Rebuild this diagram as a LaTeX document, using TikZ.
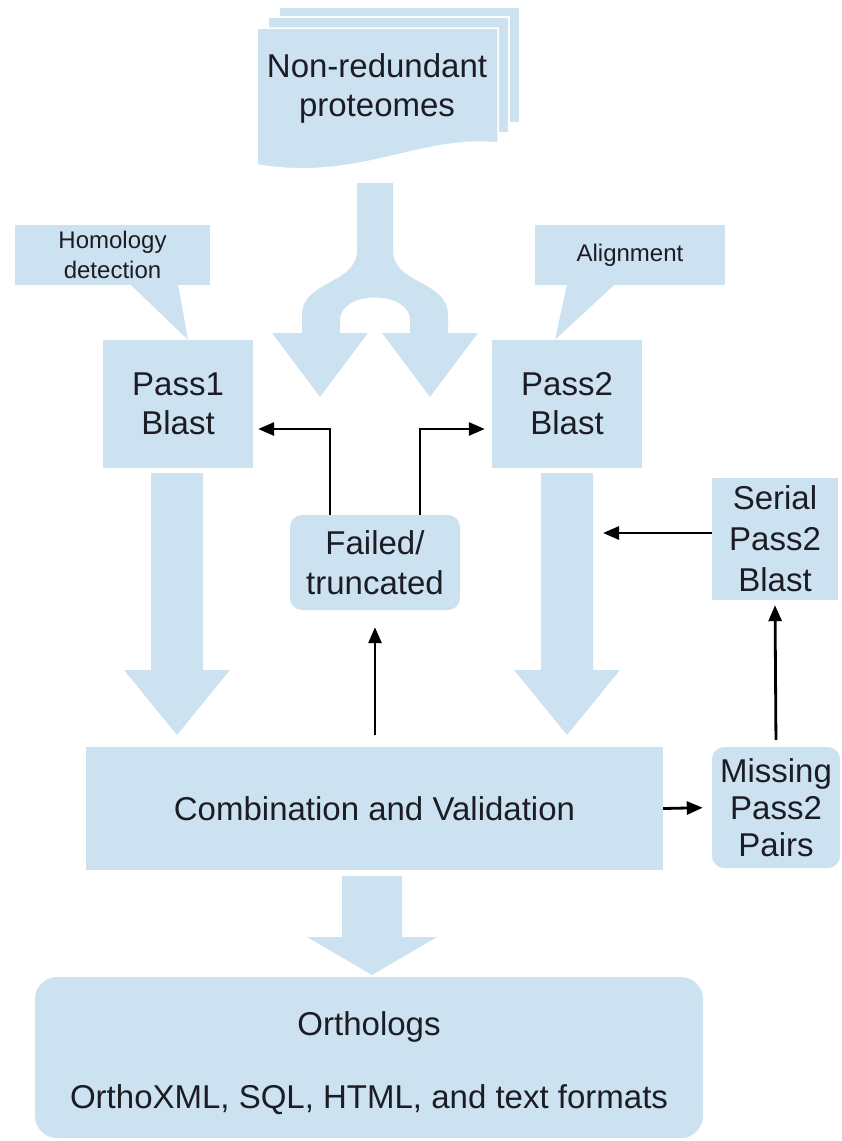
\documentclass[tikz,border=0pt]{standalone}
\usepackage{fontspec}
\setmainfont{Liberation Sans}
\definecolor{pale}{HTML}{CCE2F1}
\definecolor{ink}{HTML}{1C1C24}
\usetikzlibrary{arrows.meta, positioning}

\begin{document}
\begin{tikzpicture}[x=1pt, y=-1pt,
  blk/.style={fill=pale, text=ink, align=center, inner sep=0pt,
              font=\fontsize{33}{39}\selectfont},
  rblk/.style={blk, rounded corners=12pt},
  note/.style={fill=pale, text=ink, align=center, inner sep=0pt,
               font=\fontsize{24}{30}\selectfont},
  link/.style={draw=black, line width=2.8pt,
               -{Triangle[length=16pt,width=13pt]}},
  sheet/.style={fill=pale, draw=white, line width=1.5pt},
]
\useasboundingbox (0,0) rectangle (842,1141);

% proteome stack
\path[sheet] (279,7) rectangle (520,123);
\path[sheet] (268,17) rectangle (509,133);
\path[sheet] (257,28) -- (498,28) -- (498,143)
  .. controls (420,135) and (360,182) .. (257,165) -- cycle;
\node[text=ink, align=center, font=\fontsize{33}{39}\selectfont] (prot) at (377,88) {Non-redundant\\proteomes};

% forked arrow
\fill[pale] (357,183) -- (357,250) .. controls (357,285) and (302,280) .. (302,315)
  -- (302,333) -- (272,333) -- (320,397) -- (368,333) -- (340,333) -- (340,320)
  .. controls (340,290) and (410,290) .. (410,320) -- (410,333) -- (382,333)
  -- (430,397) -- (478,333) -- (448,333) -- (448,315)
  .. controls (448,280) and (393,285) .. (393,250) -- (393,183) -- cycle;

\node[blk, minimum width=150, minimum height=128] (p1) at (178,404) {Pass1\\Blast};
\node[blk, minimum width=150, minimum height=128] (p2) at (567,404) {Pass2\\Blast};

% callouts
\node[note, minimum width=195, minimum height=60] (hom) at (112.5,255) {Homology\\detection};
\fill[pale] ([xshift=17.5pt,yshift=1pt]hom.south) -- ([xshift=10pt]p1.north)
  -- ([xshift=65.5pt,yshift=1pt]hom.south) -- cycle;
\node[note, minimum width=190, minimum height=60] (aln) at (630,255) {Alignment};
\fill[pale] ([xshift=-63pt,yshift=1pt]aln.south) -- ([xshift=-12pt]p2.north)
  -- ([xshift=-15pt,yshift=1pt]aln.south) -- cycle;

% big arrows
\fill[pale] (151,473) -- (203,473) -- (203,670) -- (230,670) -- (177,735)
  -- (124,670) -- (151,670) -- cycle;
\fill[pale] (541,473) -- (593,473) -- (593,670) -- (620,670) -- (567,735)
  -- (514,670) -- (541,670) -- cycle;

\node[rblk, minimum width=170, minimum height=95, font=\fontsize{33}{40}\selectfont] (fail) at (375,562.5) {Failed/\\truncated};
\node[blk, minimum width=126, minimum height=122, font=\fontsize{33}{41}\selectfont] (ser) at (775,539) {Serial\\Pass2\\Blast};
\node[blk, minimum width=577, minimum height=123] (comb) at (374.5,808.5) {Combination and Validation};
\node[rblk, minimum width=128, minimum height=121, font=\fontsize{33}{37}\selectfont] (miss) at (776,807.5) {Missing\\Pass2\\Pairs};

\fill[pale] (342,876) -- (402,876) -- (402,937) -- (437,937) -- (372,975)
  -- (307,937) -- (342,937) -- cycle;

\node[blk, rounded corners=22pt, minimum width=668, minimum height=161] (orth) at (369,1057.5) {};
\node[text=ink, font=\fontsize{33}{39}\selectfont] (orthname) at (369,1027) {Orthologs};
\node[text=ink, font=\fontsize{33}{39}\selectfont] (orthfmt) at (369,1100) {OrthoXML, SQL, HTML, and text formats};

\coordinate (rshaft) at (593,533);
\draw[link, shorten >=5pt] ([xshift=-45pt]fail.north) |- ([yshift=-25pt]p1.east);
\draw[link, shorten >=7pt] ([xshift=45pt]fail.north) |- ([yshift=-25pt]p2.west);
\draw[link, shorten <=12pt, shorten >=17pt] (comb.north -| fail.south) -- (fail.south);
\draw[link, shorten >=9pt] (comb.east) -- (miss.west);
\draw[link, shorten <=7pt, shorten >=5pt] (miss.north) -- (ser.south);
\draw[link, shorten >=10pt] ([yshift=6pt]ser.west) -- (rshaft);
\end{tikzpicture}
\end{document}
